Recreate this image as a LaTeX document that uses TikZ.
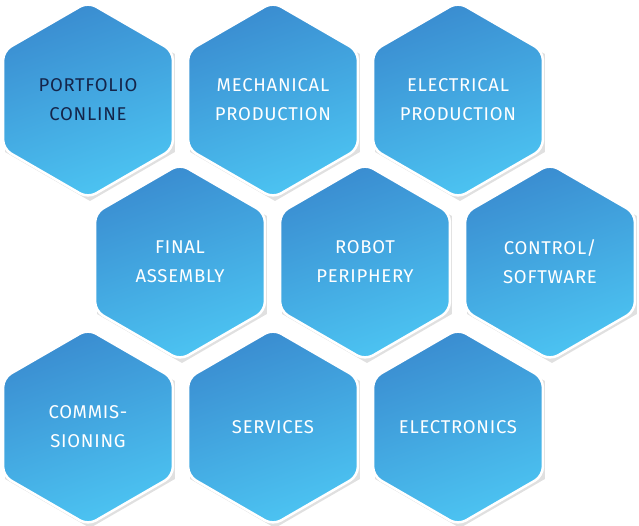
\documentclass[tikz,border=0pt]{standalone}
\usepackage{fontspec}
\setmainfont{Fira Sans}[LetterSpace=4]
\usetikzlibrary{shapes.geometric}
\definecolor{hexdark}{HTML}{3A8CD0}
\definecolor{hexlight}{HTML}{4CC4F2}
\definecolor{navy}{HTML}{14254A}
\tikzset{
  hex/.style={regular polygon, regular polygon sides=6, shape border rotate=30,
    minimum size=196pt, inner sep=0pt, draw=white, line width=2.5pt,
    rounded corners=9pt, shading=axis, top color=hexdark, bottom color=hexlight,
    shading angle=20, text=white, font=\fontsize{18.5pt}{29pt}\selectfont,
    align=center},
}
\begin{document}
\begin{tikzpicture}[x=1pt,y=-1pt]
\useasboundingbox (0,0) rectangle (639,526);
\foreach \x/\y in {88/100,273/100,458/100,180/262,365/262,550/262,88/427,273/427,458/427}
  \fill[black!12] (\x+2,\y+3) +(90:98) -- +(30:98) -- +(-30:98) -- +(-90:98) -- +(-150:98) -- +(150:98) -- cycle;
\node[hex, text=navy] (a) at (88,100) {PORTFOLIO\\CONLINE};
\node[hex] (b) at (273,100) {MECHANICAL\\PRODUCTION};
\node[hex] (c) at (458,100) {ELECTRICAL\\PRODUCTION};
\node[hex] (d) at (180,262) {FINAL\\ASSEMBLY};
\node[hex] (e) at (365,262) {ROBOT\\PERIPHERY};
\node[hex] (f) at (550,262) {CONTROL/\\SOFTWARE};
\node[hex] (g) at (88,427) {COMMIS-\\SIONING};
\node[hex] (h) at (273,427) {SERVICES};
\node[hex] (i) at (458,427) {ELECTRONICS};
\end{tikzpicture}
\end{document}
